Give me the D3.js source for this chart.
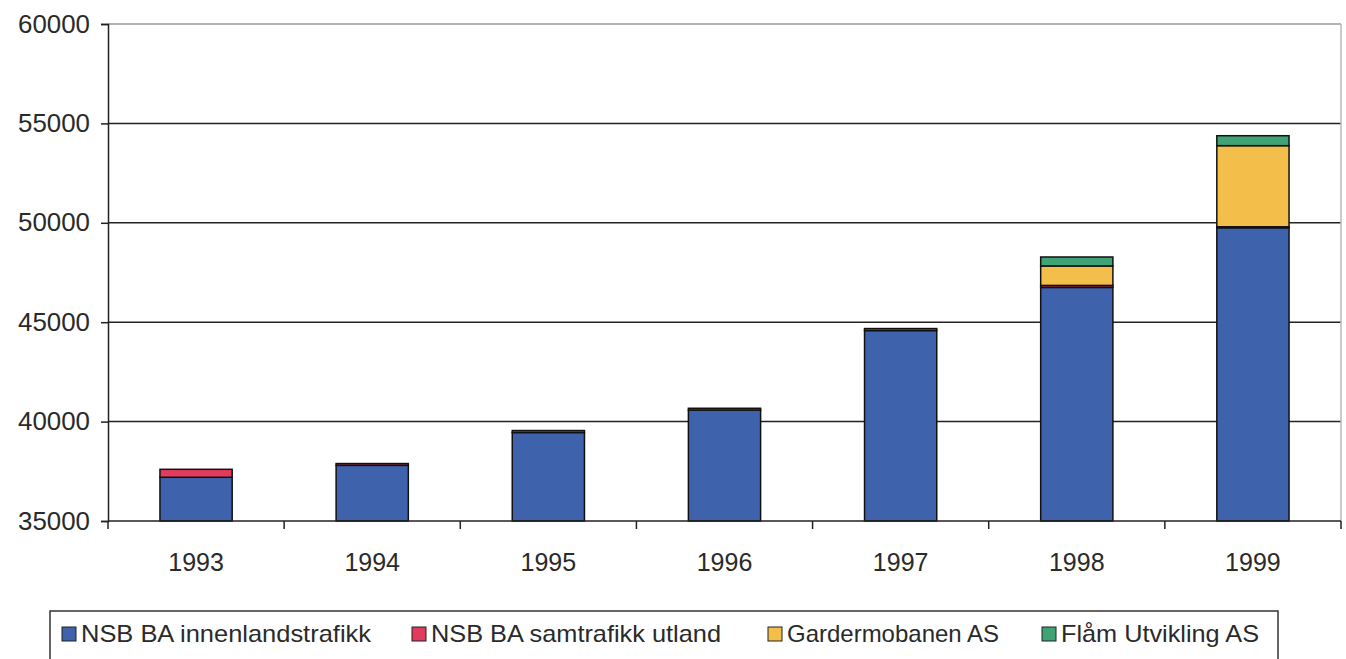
<!DOCTYPE html>
<html>
<head>
<meta charset="utf-8">
<script src="https://cdn.jsdelivr.net/npm/d3@7"></script>
<style>
  body { margin: 0; background: #fff; }
  text { font-family: "Liberation Sans", Arial, sans-serif; fill: #222; }
</style>
</head>
<body>
<div id="chart"></div>
<script>
// data
var years = ["1993", "1994", "1995", "1996", "1997", "1998", "1999"];
var innenland = [37200, 37800, 39450, 40580, 44580, 46750, 49750];
var utland    = [400,   90,    100,   90,    100,   100,   50];
var gardermo  = [0,     0,     0,     0,     0,     980,   4080];
var flaam     = [0,     0,     0,     0,     0,     450,   500];
var seriesNames = ["NSB BA innenlandstrafikk", "NSB BA samtrafikk utland", "Gardermobanen AS", "Flåm Utvikling AS"];
var yTicks = [35000, 40000, 45000, 50000, 55000, 60000];

var colors = ["#3f62ad", "#e23b5e", "#f3bf4a", "#3fa376"];

var margin = {top: 24, right: 5, bottom: 138, left: 108},
    width = 1346 - margin.left - margin.right,
    height = 659 - margin.top - margin.bottom;

var svg = d3.select("#chart")
  .append("svg")
    .attr("width", 1346)
    .attr("height", 659)
  .append("g")
    .attr("transform", "translate(" + margin.left + "," + margin.top + ")");

var x = d3.scaleBand()
  .domain(years)
  .range([0, width])
  .paddingInner(0.59)
  .paddingOuter(0.295);

var y = d3.scaleLinear()
  .domain([35000, 60000])
  .range([height, 0]);
var yMin = y.domain()[0];

// table for the stack
var table = years.map(function(yr, i) {
  return {year: yr, s0: innenland[i], s1: utland[i], s2: gardermo[i], s3: flaam[i]};
});
var keys = ["s0", "s1", "s2", "s3"];
var stacked = d3.stack().keys(keys)(table);

// grid lines
svg.selectAll(".grid")
  .data(yTicks.slice(1))
  .enter().append("line")
    .attr("class", "grid")
    .attr("x1", 0)
    .attr("x2", width)
    .attr("y1", d => y(d))
    .attr("y2", d => y(d))
    .style("stroke", d => d === 60000 ? "#9a9a9a" : "#222")
    .style("stroke-width", 1.5);

// right border
svg.append("line")
  .attr("x1", width).attr("x2", width)
  .attr("y1", 0).attr("y2", height)
  .style("stroke", "#b8b8b8")
  .style("stroke-width", 1.5);

// bars (axis starts at 35000, so clip the bottom segment there)
var layer = svg.selectAll(".layer")
  .data(stacked)
  .enter().append("g")
    .attr("class", "layer")
    .attr("fill", (d, i) => colors[i]);

layer.selectAll("rect")
  .data(d => d.filter(p => p[1] - p[0] > 0))
  .enter().append("rect")
    .attr("x", d => x(d.data.year))
    .attr("y", d => y(d[1]))
    .attr("width", x.bandwidth())
    .attr("height", d => y(Math.max(d[0], yMin)) - y(d[1]))
    .style("stroke", "#111")
    .style("stroke-width", 1.5);

// y axis
var yAxis = svg.append("g")
  .call(d3.axisLeft(y).tickValues(yTicks).tickSize(7).tickPadding(11).tickFormat(d3.format("d")));
yAxis.select(".domain").style("stroke", "#222").style("stroke-width", 1.5);
yAxis.selectAll(".tick line").style("stroke", "#222").style("stroke-width", 1.5);
yAxis.selectAll("text")
  .style("font-size", "25px")
  .style("fill", "#2a2a2a")
  .attr("textLength", 72)
  .attr("lengthAdjust", "spacingAndGlyphs");

// x axis: ticks sit between the categories
var xAxis = svg.append("g")
  .attr("transform", "translate(0," + height + ")");
xAxis.append("line")
  .attr("x1", 0).attr("x2", width)
  .style("stroke", "#222").style("stroke-width", 1.5);
var step = x.step();
xAxis.selectAll(".xtick")
  .data(d3.range(years.length + 1))
  .enter().append("line")
    .attr("class", "xtick")
    .attr("x1", i => i * step)
    .attr("x2", i => i * step)
    .attr("y1", 0)
    .attr("y2", 8)
    .style("stroke", "#222").style("stroke-width", 1.5);
xAxis.selectAll(".xlabel")
  .data(years)
  .enter().append("text")
    .attr("class", "xlabel")
    .attr("x", d => x(d) + x.bandwidth() / 2)
    .attr("y", 50)
    .attr("text-anchor", "middle")
    .style("font-size", "25px")
    .style("fill", "#2a2a2a")
    .text(d => d);

// legend
var root = d3.select("#chart svg");
root.append("rect")
  .attr("x", 50).attr("y", 611)
  .attr("width", 1228).attr("height", 60)
  .style("fill", "none")
  .style("stroke", "#333")
  .style("stroke-width", 1.5);

var legendX = [62, 412, 768, 1042];
var legendW = [290, 290, 212, 198];
var legend = root.selectAll(".legend")
  .data(seriesNames)
  .enter().append("g")
    .attr("class", "legend")
    .attr("transform", (d, i) => "translate(" + legendX[i] + ",634)");

legend.append("rect")
  .attr("x", 0)
  .attr("y", -7)
  .attr("width", 14)
  .attr("height", 14)
  .style("fill", (d, i) => colors[i])
  .style("stroke", "#222")
  .style("stroke-width", 1);

legend.append("text")
  .attr("x", 19)
  .attr("y", 0)
  .attr("dy", "0.35em")
  .attr("textLength", (d, i) => legendW[i])
  .attr("lengthAdjust", "spacingAndGlyphs")
  .style("font-size", "24px")
  .style("fill", "#2a2a2a")
  .text(d => d);
</script>
</body>
</html>
